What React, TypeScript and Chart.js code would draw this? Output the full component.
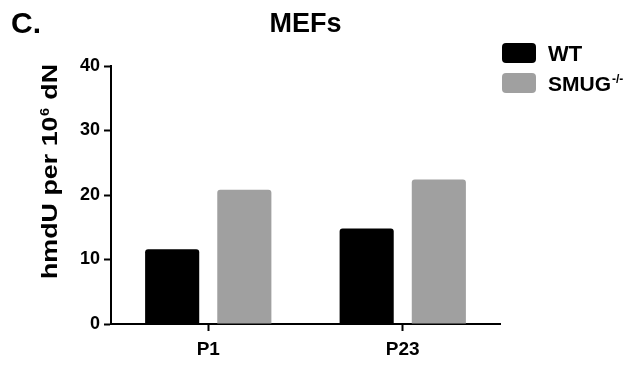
import React, { useEffect, useRef } from "react";
import { Chart, registerables } from "chart.js";

Chart.register(...registerables);

const categories = ["P1", "P23"];
const wtValues = [11.6, 14.8];
const smugValues = [20.8, 22.4];
const yMin = 0;
const yMax = 40;
const yStep = 10;
const seriesNames = ["WT", "SMUG"];
const smugSuperscript = "-/-";
const chartTitle = "MEFs";
const panelLabel = "C.";
const yTitleMain = "hmdU per 10";
const yTitleSup = "6";
const yTitleEnd = " dN";

const FONT = "'Liberation Sans', Arial, Helvetica, sans-serif";
const WT_COLOR = "#000000";
const SMUG_COLOR = "#a0a0a0";

const textPlugin = {
  id: "textPlugin",
  afterDraw(chart: any) {
    const ctx = chart.ctx as CanvasRenderingContext2D;
    const area = chart.chartArea;
    ctx.save();
    ctx.fillStyle = "#000";
    ctx.textBaseline = "alphabetic";

    // panel label
    ctx.font = `bold 30px ${FONT}`;
    ctx.textAlign = "left";
    ctx.fillText(panelLabel, 11, 33);

    // title
    ctx.font = `bold 27px ${FONT}`;
    ctx.textAlign = "center";
    ctx.fillText(chartTitle, (area.left + area.right) / 2, 32);

    // y-axis title (rotated, with superscript)
    ctx.save();
    ctx.translate(49, 171.5);
    ctx.rotate(-Math.PI / 2);
    ctx.scale(1.22, 1);
    ctx.textAlign = "left";
    const mainFont = `bold 22px ${FONT}`;
    const supFont = `bold 12px ${FONT}`;
    ctx.font = mainFont;
    const w1 = ctx.measureText(yTitleMain).width;
    const w3 = ctx.measureText(yTitleEnd).width;
    ctx.font = supFont;
    const w2 = ctx.measureText(yTitleSup).width + 1;
    const total = w1 + w2 + w3;
    let x = -total / 2;
    const base = 8;
    ctx.font = mainFont;
    ctx.fillText(yTitleMain, x, base);
    x += w1;
    ctx.font = supFont;
    ctx.fillText(yTitleSup, x + 0.5, base - 8);
    x += w2;
    ctx.font = mainFont;
    ctx.fillText(yTitleEnd, x, base);
    ctx.restore();

    // legend
    const boxX = 502;
    const boxW = 34;
    const boxH = 20;
    const rows = [
      { y: 43, color: WT_COLOR, label: seriesNames[0], size: 22, sup: "" },
      { y: 73, color: SMUG_COLOR, label: seriesNames[1], size: 21, sup: smugSuperscript },
    ];
    for (const r of rows) {
      ctx.fillStyle = r.color;
      ctx.beginPath();
      (ctx as any).roundRect(boxX, r.y, boxW, boxH, 4);
      ctx.fill();
      ctx.fillStyle = "#000";
      ctx.textAlign = "left";
      ctx.font = `bold ${r.size}px ${FONT}`;
      const baseY = r.y + boxH / 2 + r.size * 0.36;
      ctx.fillText(r.label, 548, baseY);
      if (r.sup) {
        const lw = ctx.measureText(r.label).width;
        ctx.font = `bold 12px ${FONT}`;
        ctx.fillText(r.sup, 548 + lw + 1, baseY - 8);
      }
    }
    ctx.restore();
  },
};

export default function App() {
  const ref = useRef<HTMLCanvasElement | null>(null);

  useEffect(() => {
    document.body.style.margin = "0";
    const canvas = ref.current;
    if (!canvas) return;
    const chart = new Chart(canvas, {
      type: "bar",
      data: {
        labels: categories,
        datasets: [
          {
            label: seriesNames[0],
            data: wtValues,
            backgroundColor: WT_COLOR,
            borderRadius: 3,
            borderSkipped: "bottom",
            categoryPercentage: 0.742,
            barPercentage: 0.75,
          },
          {
            label: seriesNames[1],
            data: smugValues,
            backgroundColor: SMUG_COLOR,
            borderRadius: 3,
            borderSkipped: "bottom",
            categoryPercentage: 0.742,
            barPercentage: 0.75,
          },
        ],
      },
      options: {
        responsive: false,
        animation: false,
        devicePixelRatio: 1,
        layout: { padding: { top: 66, right: 139, left: 0, bottom: 0 } },
        plugins: {
          legend: { display: false },
          title: { display: false },
          tooltip: { enabled: false },
        },
        scales: {
          x: {
            offset: true,
            grid: {
              offset: false,
              drawOnChartArea: false,
              drawTicks: true,
              tickLength: 7,
              tickColor: "#000",
              tickWidth: 2,
            },
            border: { display: true, color: "#000", width: 2 },
            ticks: {
              color: "#000",
              padding: 7,
              font: { family: FONT, size: 19, weight: "bold" },
            },
            afterFit(scale: any) {
              scale.height = 44;
            },
          },
          y: {
            min: yMin,
            max: yMax,
            ticks: {
              stepSize: yStep,
              color: "#000",
              padding: 4,
              font: { family: FONT, size: 18, weight: "bold" },
            },
            grid: {
              drawOnChartArea: false,
              drawTicks: true,
              tickLength: 7,
              tickColor: "#000",
              tickWidth: 2,
            },
            border: { display: true, color: "#000", width: 2 },
            afterFit(scale: any) {
              scale.width = 111;
            },
          },
        },
      },
      plugins: [textPlugin],
    } as any);
    return () => chart.destroy();
  }, []);

  return (
    <div style={{ width: 639, height: 368, background: "#fff" }}>
      <canvas ref={ref} width={639} height={368} style={{ display: "block" }} />
    </div>
  );
}
